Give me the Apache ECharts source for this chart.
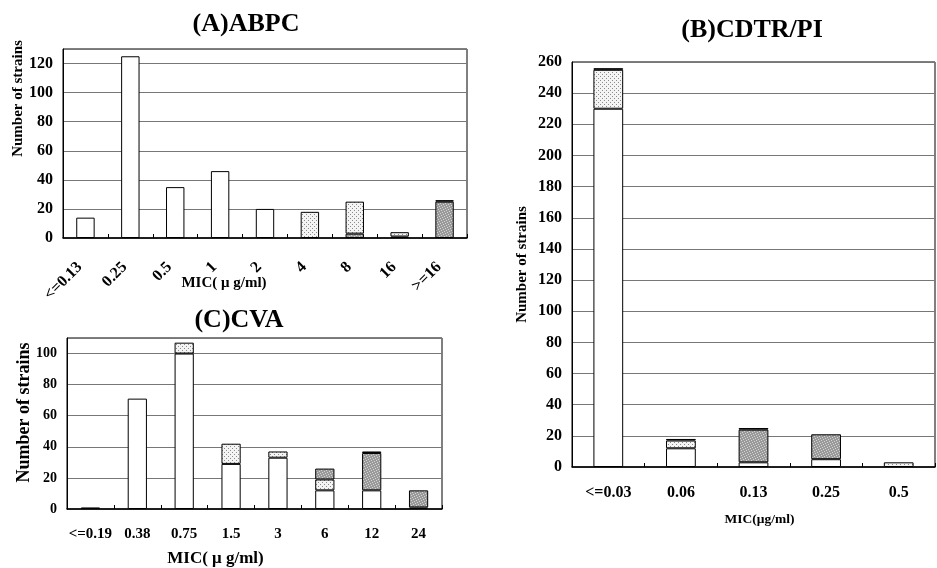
<!DOCTYPE html>
<html>
<head>
<meta charset="utf-8">
<script src="https://cdn.jsdelivr.net/npm/echarts@6/dist/echarts.min.js"></script>
<style>
  html, body { margin: 0; padding: 0; background: #fff; }
  #chart { width: 937px; height: 568px; }
</style>
</head>
<body>
<div id="chart"></div>
<script>
// (A) ABPC
const catsA = ['<=0.13', '0.25', '0.5', '1', '2', '4', '8', '16', '>=16'];
const whiteA = [14, 125, 35, 46, 20, 0, 0, 0, 0];
const grayA = [0, 0, 0, 0, 0, 0, 3, 1, 25];
const dotA = [0, 0, 0, 0, 0, 18, 22, 3, 0];
const blackA = [0, 0, 0, 0, 0, 0, 0, 0, 1];

// (B) CDTR/PI
const catsB = ['<=0.03', '0.06', '0.13', '0.25', '0.5'];
const whiteB = [230, 12, 3, 5, 0];
const dotB = [25, 5, 0, 0, 3];
const grayB = [0, 0, 21, 16, 0];
const blackB = [1, 1, 1, 0, 0];

// (C) CVA
const catsC = ['<=0.19', '0.38', '0.75', '1.5', '3', '6', '12', '24'];
const whiteC = [0, 71, 100, 29, 33, 12, 12, 1];
const dotC = [0, 0, 7, 13, 4, 7, 0, 0];
const grayC = [1, 0, 0, 0, 0, 7, 24, 11];
const blackC = [0, 0, 0, 0, 0, 0, 1, 0];

const FONT = '"Liberation Serif", "DejaVu Serif", serif';

// fill patterns
function makePattern(size, bg, fg, pts) {
  const c = document.createElement('canvas');
  c.width = size; c.height = size;
  const ctx = c.getContext('2d');
  ctx.fillStyle = bg; ctx.fillRect(0, 0, size, size);
  ctx.fillStyle = fg;
  pts.forEach(p => ctx.fillRect(p[0], p[1], 1, 1));
  return { image: c, repeat: 'repeat' };
}
const dotFill = makePattern(4, '#f4f4f4', '#8a8a8a', [[0, 0], [2, 2]]);
const grayFill = makePattern(5, '#9a9a9a', '#d4d4d4', [[1, 0], [4, 1], [2, 2], [0, 3], [3, 4]]);

const clean = arr => arr.map(v => (v === 0 ? '-' : v));

function barSeries(idx, stack, list) {
  return list.map(([name, data, color]) => ({
    name: name,
    type: 'bar',
    xAxisIndex: idx,
    yAxisIndex: idx,
    stack: stack,
    barWidth: '41%',
    data: clean(data),
    itemStyle: { color: color, borderColor: '#000', borderWidth: 1 },
    emphasis: { disabled: true }
  }));
}

function xAx(idx, cats, opt) {
  return {
    type: 'category',
    gridIndex: idx,
    data: cats,
    name: idx === 1 ? 'MIC(μg/ml)' : 'MIC( μ g/ml)',
    nameLocation: 'middle',
    nameGap: opt.gap,
    nameMoveOverlap: false,
    nameTextStyle: { fontFamily: FONT, fontWeight: 'bold', fontSize: opt.nameSize, color: '#000', padding: opt.pad },
    axisLine: { lineStyle: { color: '#000', width: 1.5 } },
    axisTick: { show: true, inside: true, length: 4, lineStyle: { color: '#000' } },
    axisLabel: {
      interval: 0, rotate: opt.rotate, margin: opt.margin, padding: opt.labelPad || 0,
      fontFamily: FONT, fontWeight: 'bold', fontSize: opt.labelSize, color: '#000'
    },
    splitLine: { show: false }
  };
}

function yAx(idx, max, opt) {
  return {
    type: 'value',
    gridIndex: idx,
    min: 0,
    max: max,
    interval: 20,
    name: 'Number of strains',
    nameLocation: 'middle',
    nameGap: opt.gap,
    nameMoveOverlap: false,
    nameTextStyle: { fontFamily: FONT, fontWeight: 'bold', fontSize: opt.nameSize, color: '#000', padding: opt.pad },
    axisLine: { show: true, lineStyle: { color: '#000' } },
    axisTick: { show: false },
    axisLabel: {
      margin: 10, fontFamily: FONT, fontWeight: 'bold', fontSize: opt.labelSize, color: '#000',
      formatter: v => (v === max && max % 20 !== 0 ? '' : v)
    },
    splitLine: { show: true, lineStyle: { color: '#777', width: 1 } }
  };
}

const titleStyle = { fontFamily: FONT, fontWeight: 'bold', fontSize: 26, color: '#000' };

const chart = echarts.init(document.getElementById('chart'), null, { renderer: 'canvas' });
chart.setOption({
  backgroundColor: '#fff',
  animation: false,
  title: [
    { text: '(A)ABPC', left: 241, top: 6, textAlign: 'center', textStyle: titleStyle },
    { text: '(B)CDTR/PI', left: 747, top: 12, textAlign: 'center', textStyle: titleStyle },
    { text: '(C)CVA', left: 234, top: 302, textAlign: 'center', textStyle: titleStyle }
  ],
  grid: [
    { left: 63, top: 49, width: 404, height: 189, show: true, borderColor: '#000', borderWidth: 1, backgroundColor: 'transparent' },
    { left: 572, top: 62, width: 363, height: 405, show: true, borderColor: '#000', borderWidth: 1, backgroundColor: 'transparent' },
    { left: 67, top: 338, width: 375, height: 172, show: true, borderColor: '#000', borderWidth: 1, backgroundColor: 'transparent' }
  ],
  xAxis: [
    xAx(0, catsA, { rotate: 45, margin: 21, labelPad: [0, 8, 0, 0], gap: 38, pad: [0, 82, 0, 0], nameSize: 15, labelSize: 16 }),
    xAx(1, catsB, { rotate: 0, margin: 18, gap: 46, pad: [0, 0, 0, 12], nameSize: 13.5, labelSize: 16 }),
    xAx(2, catsC, { rotate: 0, margin: 18, gap: 41, pad: [0, 78, 0, 0], nameSize: 17, labelSize: 15 })
  ],
  yAxis: [
    yAx(0, 130, { gap: 37, pad: [0, 0, 0, 90], nameSize: 15, labelSize: 16 }),
    yAx(1, 260, { gap: 42, pad: [0, 0, 0, 0], nameSize: 15, labelSize: 16 }),
    yAx(2, 110, { gap: 34, pad: [0, 0, 0, 22], nameSize: 18, labelSize: 14 })
  ],
  series: [].concat(
    barSeries(0, 'A', [['S', whiteA, '#fff'], ['R', grayA, grayFill], ['I', dotA, dotFill], ['X', blackA, '#111']]),
    barSeries(1, 'B', [['S', whiteB, '#fff'], ['I', dotB, dotFill], ['R', grayB, grayFill], ['X', blackB, '#111']]),
    barSeries(2, 'C', [['S', whiteC, '#fff'], ['I', dotC, dotFill], ['R', grayC, grayFill], ['X', blackC, '#111']])
  )
});
</script>
</body>
</html>
